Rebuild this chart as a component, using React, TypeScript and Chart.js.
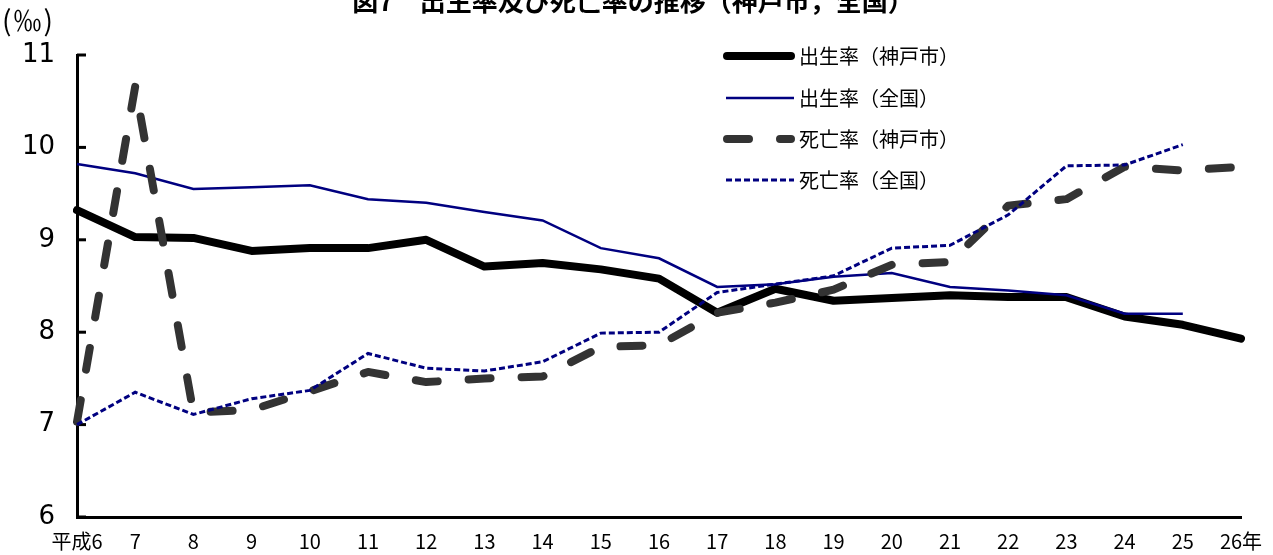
import React, { useEffect, useRef } from 'react';
import { Chart, registerables } from 'chart.js';

Chart.register(...registerables);

const FONT = '"Noto Sans CJK JP", "Noto Sans", sans-serif';
const NUM_FONT = '"DejaVu Sans", sans-serif';

const TITLE = '図7　出生率及び死亡率の推移（神戸市，全国）';
const UNIT = '(‰)';

const years = ['平成6', '7', '8', '9', '10', '11', '12', '13', '14', '15', '16', '17', '18', '19', '20', '21', '22', '23', '24', '25', '26年'];

const seriesNames = ['出生率（神戸市）', '出生率（全国）', '死亡率（神戸市）', '死亡率（全国）'];

const birthKobe = [9.32, 9.03, 9.02, 8.88, 8.91, 8.91, 9.0, 8.71, 8.75, 8.68, 8.58, 8.21, 8.47, 8.34, 8.37, 8.4, 8.38, 8.38, 8.17, 8.08, 7.93];
const birthJapan = [9.82, 9.72, 9.55, 9.57, 9.59, 9.44, 9.4, 9.3, 9.21, 8.91, 8.8, 8.49, 8.52, 8.6, 8.64, 8.49, 8.45, 8.4, 8.2, 8.2, null];
const deathKobe = [7.03, 10.66, 7.13, 7.16, 7.36, 7.57, 7.46, 7.5, 7.52, 7.84, 7.86, 8.21, 8.32, 8.46, 8.73, 8.76, 9.37, 9.44, 9.79, 9.75, 9.79];
const deathJapan = [7.0, 7.35, 7.11, 7.28, 7.37, 7.77, 7.61, 7.58, 7.68, 7.99, 8.0, 8.43, 8.52, 8.61, 8.91, 8.94, 9.27, 9.8, 9.81, 10.03, null];

const yMin = 6;
const yMax = 11;

const decor = {
  id: 'decor',
  beforeDatasetsDraw(chart: any) {
    const { ctx, chartArea, scales } = chart;
    const y = scales.y;
    ctx.save();
    ctx.strokeStyle = '#000';
    ctx.lineWidth = 3;
    y.ticks.forEach((t: any) => {
      const py = y.getPixelForValue(t.value);
      ctx.beginPath();
      ctx.moveTo(chartArea.left, py);
      ctx.lineTo(chartArea.left + 9, py);
      ctx.stroke();
    });
    ctx.restore();
  },
  afterDraw(chart: any) {
    const { ctx } = chart;
    ctx.save();
    ctx.fillStyle = '#000';
    ctx.font = `bold 26px ${FONT}`;
    ctx.textAlign = 'center';
    ctx.textBaseline = 'middle';
    ctx.fillText(TITLE, 633, 1);

    ctx.font = `28px ${FONT}`;
    ctx.textAlign = 'left';
    (ctx as any).letterSpacing = '2px';
    ctx.fillText(UNIT, 2, 20);
    (ctx as any).letterSpacing = '0px';

    const rows = [56, 98, 139, 180];
    chart.data.datasets.forEach((ds: any, i: number) => {
      const ry = rows[i];
      ctx.save();
      ctx.strokeStyle = ds.borderColor;
      ctx.lineWidth = ds.borderWidth;
      ctx.lineCap = ds.borderCapStyle || 'butt';
      ctx.setLineDash(ds.borderDash || []);
      ctx.beginPath();
      const round = ds.borderCapStyle === 'round';
      ctx.moveTo(round ? 727 : 726, ry);
      ctx.lineTo(round ? 791 : 794, ry);
      ctx.stroke();
      ctx.restore();
      ctx.fillStyle = '#000';
      ctx.font = `20px ${FONT}`;
      ctx.textAlign = 'left';
      ctx.textBaseline = 'middle';
      ctx.fillText(ds.label, 799, ry);
    });
    ctx.restore();
  },
};

export default function App() {
  const ref = useRef<HTMLCanvasElement>(null);
  useEffect(() => {
    const canvas = ref.current!;
    const chart = new Chart(canvas, {
      type: 'line',
      data: {
        labels: years,
        datasets: [
          {
            label: seriesNames[0],
            data: birthKobe,
            borderColor: '#000000',
            borderWidth: 8,
            borderCapStyle: 'round',
            borderJoinStyle: 'round',
            pointRadius: 0,
            order: 3,
          },
          {
            label: seriesNames[1],
            data: birthJapan,
            borderColor: '#000080',
            borderWidth: 2.5,
            pointRadius: 0,
            order: 2,
          },
          {
            label: seriesNames[2],
            data: deathKobe,
            borderColor: '#333333',
            borderWidth: 8,
            borderDash: [22, 31],
            borderCapStyle: 'round',
            borderJoinStyle: 'round',
            pointRadius: 0,
            order: 1,
          },
          {
            label: seriesNames[3],
            data: deathJapan,
            borderColor: '#000080',
            borderWidth: 3,
            borderDash: [6, 3],
            pointRadius: 0,
            order: 0,
          },
        ] as any,
      },
      options: {
        responsive: false,
        animation: false,
        layout: { padding: { top: 55, right: 32, left: 0, bottom: 0 } },
        plugins: {
          legend: { display: false },
          title: { display: false },
          tooltip: { enabled: false },
        },
        scales: {
          x: {
            type: 'category',
            offset: false,
            grid: { display: false },
            border: { display: true, color: '#000', width: 3 },
            ticks: {
              autoSkip: false,
              maxRotation: 0,
              minRotation: 0,
              padding: 4,
              color: '#000',
              font: { family: FONT, size: 20 },
            },
            afterFit: (s: any) => {
              s.height = 38;
            },
          },
          y: {
            min: yMin,
            max: yMax,
            grid: { display: false, drawTicks: false },
            border: { display: true, color: '#000', width: 3 },
            ticks: {
              stepSize: 1,
              padding: 22,
              color: '#000',
              font: { family: NUM_FONT, size: 26 },
            },
            afterFit: (s: any) => {
              s.width = 77;
            },
          },
        },
      },
      plugins: [decor],
    });
    return () => chart.destroy();
  }, []);
  return (
    <div style={{ position: 'absolute', left: 0, top: 0, width: 1273, height: 555, background: '#fff' }}>
      <canvas ref={ref} width={1273} height={555} style={{ display: 'block' }} />
    </div>
  );
}
